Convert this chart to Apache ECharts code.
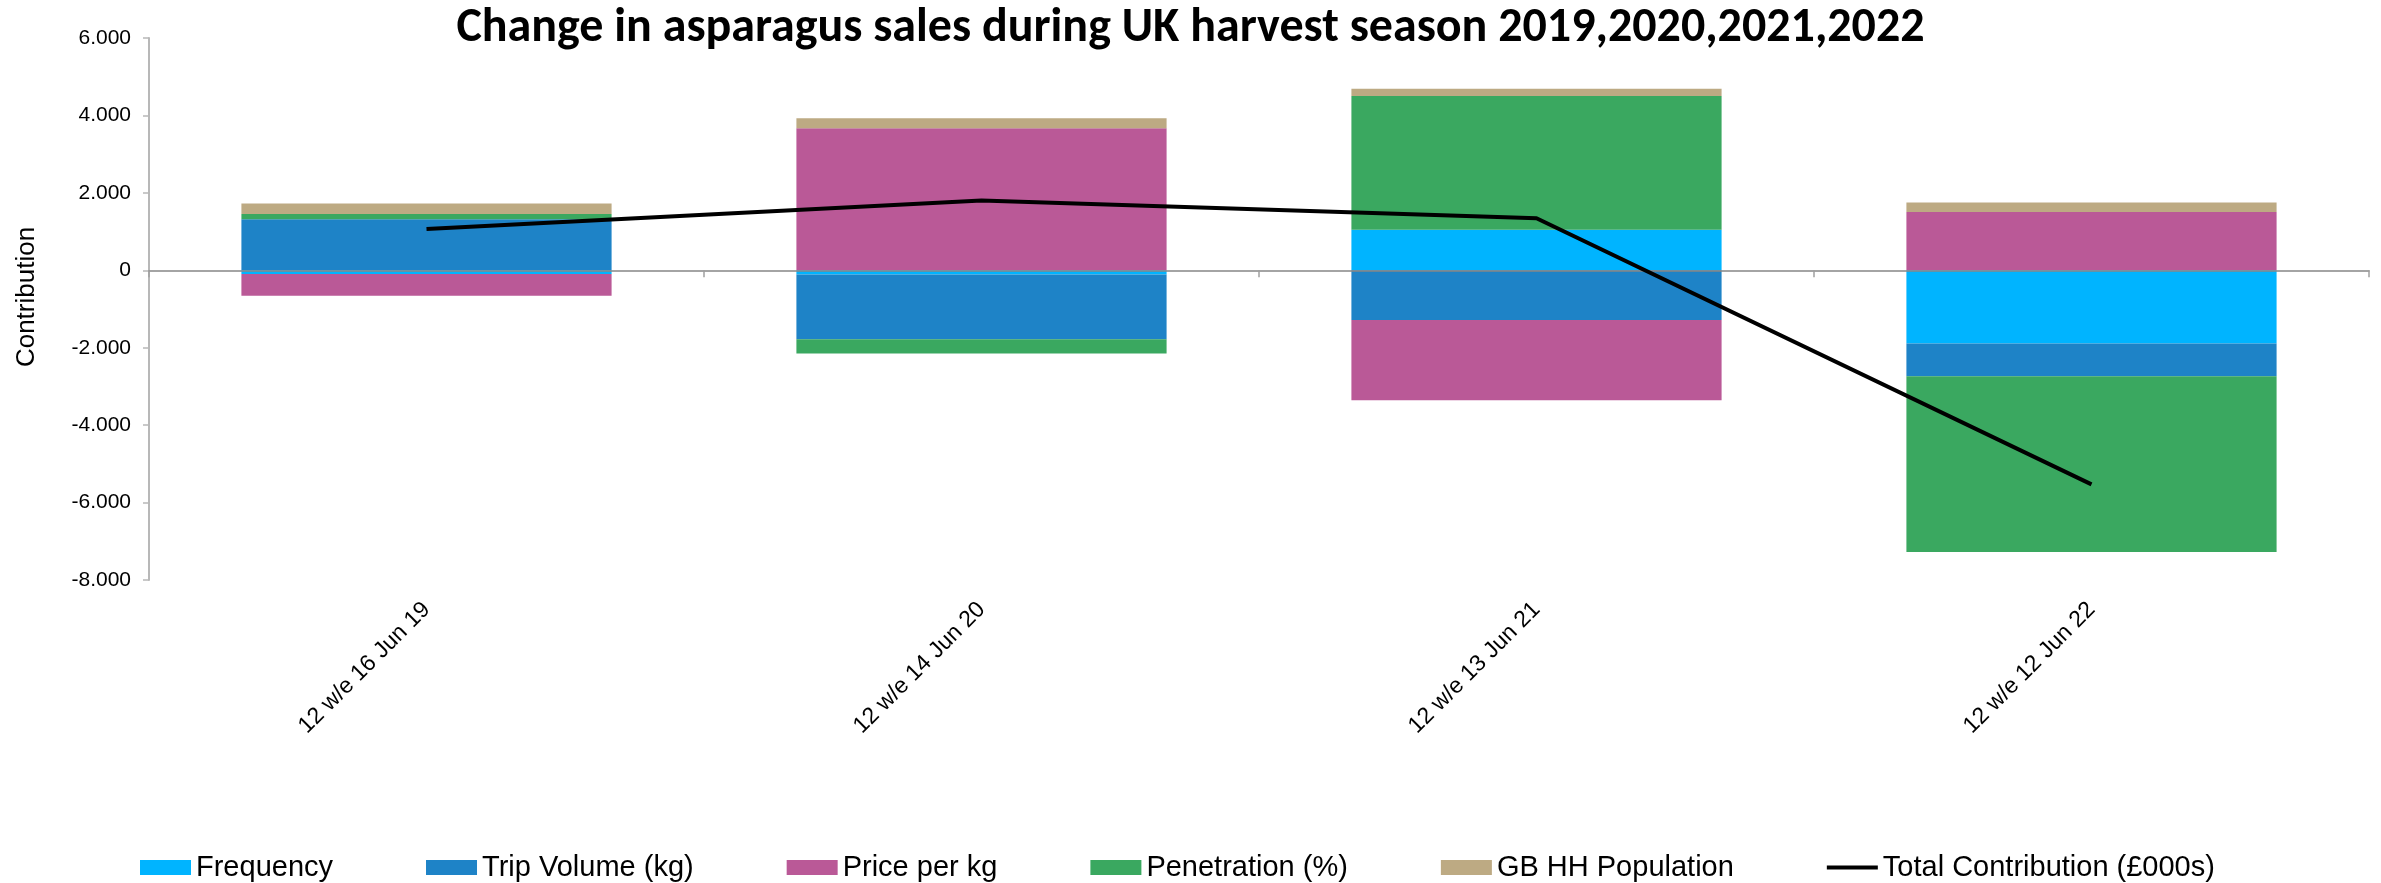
<!DOCTYPE html>
<html>
<head>
<meta charset="utf-8">
<script src="https://cdn.jsdelivr.net/npm/echarts@6/dist/echarts.min.js"></script>
<style>
  html, body { margin: 0; padding: 0; background: #fff; }
  #chart { width: 2381px; height: 883px; }
</style>
</head>
<body>
<div id="chart"></div>
<script>
const categories = ['12 w/e 16 Jun 19', '12 w/e 14 Jun 20', '12 w/e 13 Jun 21', '12 w/e 12 Jun 22']
const frequency = [-95, -110, 1050, -1890]
const tripVolume = [1320, -1670, -1285, -850]
const pricePerKg = [-560, 3670, -2075, 1505]
const penetration = [137, -370, 3450, -4535]
const gbPopulation = [267, 258, 190, 243]
const totalContribution = [1065, 1800, 1345, -5530]
const yTicks = { min: -8000, max: 6000, step: 2000 }

const chart = echarts.init(document.getElementById('chart'))
const arial = '"Liberation Sans", Arial, sans-serif'

const barSeries = (name, data, color) => ({
  name, type: 'bar', data, stack: 'c', barWidth: '66.7%',
  itemStyle: { color },
  emphasis: { disabled: true },
})

const fmt = v => v === 0 ? '0' : (v / 1000).toFixed(3)

chart.setOption({
  animation: false,
  title: {
    text: 'Change in asparagus sales during UK harvest season 2019,2020,2021,2022',
    left: 'center', top: 0,
    textStyle: { fontFamily: 'Carlito, "Liberation Sans Narrow", sans-serif', fontWeight: 'bold', fontSize: 48, color: '#000' },
  },
  grid: { left: 149, right: 12, top: 38, bottom: 303 },
  legend: {
    left: 135, top: 848, itemGap: 93, itemWidth: 51, itemHeight: 15,
    textStyle: { fontFamily: arial, fontSize: 29, color: '#000' },
    data: [
      { name: 'Frequency', icon: 'rect' },
      { name: 'Trip Volume (kg)', icon: 'rect' },
      { name: 'Price per kg', icon: 'rect' },
      { name: 'Penetration (%)', icon: 'rect' },
      { name: 'GB HH Population', icon: 'rect' },
      { name: 'Total Contribution (£000s)', icon: 'path://M0,0 L56,0 L56,4.5 L0,4.5 Z' },
    ],
  },
  xAxis: [
    {
      type: 'category', data: categories, position: 'bottom',
      axisLine: { show: false, onZero: false }, axisTick: { show: false },
      axisLabel: { rotate: 45, margin: 26, fontSize: 23, color: '#000', fontFamily: arial, interval: 0 },
    },
    {
      type: 'category', data: categories, position: 'bottom', z: 3,
      axisLine: { show: true, onZero: true, lineStyle: { color: '#868686', width: 1.5 } },
      axisTick: { show: true, length: 7, lineStyle: { color: '#a0a0a0', width: 1.5 } },
      axisLabel: { show: false },
    },
  ],
  yAxis: {
    type: 'value', min: yTicks.min, max: yTicks.max, interval: yTicks.step,
    name: 'Contribution', nameLocation: 'middle', nameGap: 109,
    nameTextStyle: { fontSize: 26, color: '#000', fontFamily: arial, padding: [0, 0, 0, 24] },
    axisLine: { show: true, lineStyle: { color: '#b8b8b8', width: 2 } },
    axisTick: { show: true, length: 6, lineStyle: { color: '#b8b8b8', width: 1.5 } },
    axisLabel: { formatter: fmt, fontSize: 21, color: '#000', margin: 18, fontFamily: arial },
    splitLine: { show: false },
  },
  series: [
    barSeries('Frequency', frequency, '#00B4FF'),
    barSeries('Trip Volume (kg)', tripVolume, '#1E83C7'),
    barSeries('Price per kg', pricePerKg, '#BA5997'),
    barSeries('Penetration (%)', penetration, '#3AA860'),
    barSeries('GB HH Population', gbPopulation, '#BDAA83'),
    {
      name: 'Total Contribution (£000s)', type: 'line', data: totalContribution, z: 5,
      symbol: 'none', lineStyle: { color: '#000', width: 4 }, itemStyle: { color: '#000' },
      emphasis: { disabled: true },
    },
  ],
})
</script>
</body>
</html>
